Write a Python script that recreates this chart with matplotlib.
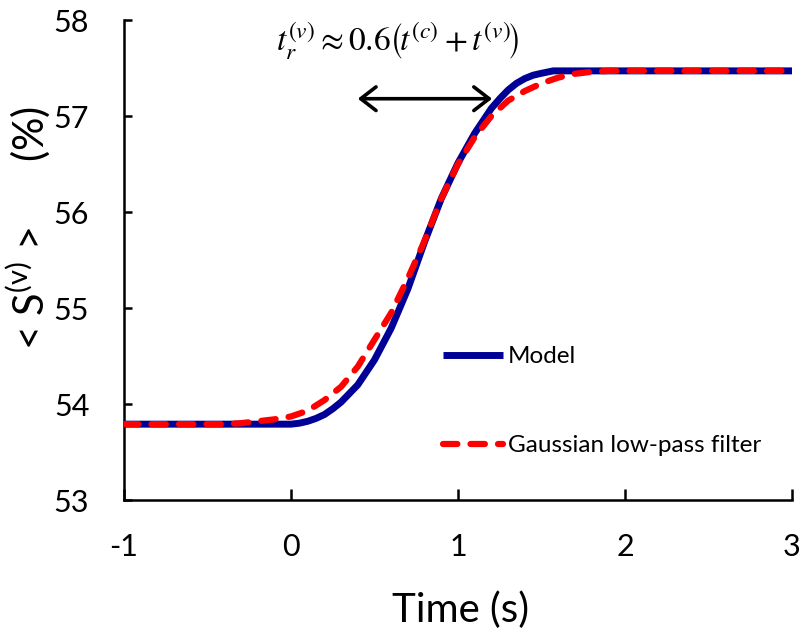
import matplotlib
matplotlib.use("Agg")
import matplotlib.pyplot as plt

# model response, time (s) vs mean saturation (%)
model_t = [-1.0, 0.0, 0.05, 0.1, 0.15, 0.2, 0.25, 0.3, 0.4, 0.5, 0.6, 0.7, 0.8, 0.9,
           1.0, 1.1, 1.2, 1.25, 1.3, 1.35, 1.4, 1.45, 1.5, 1.57, 3.0]
model_s = [53.79, 53.79, 53.80, 53.82, 53.85, 53.89, 53.95, 54.02, 54.20, 54.46, 54.79,
           55.20, 55.69, 56.14, 56.51, 56.82, 57.08, 57.18, 57.27, 57.34, 57.39, 57.425,
           57.445, 57.47, 57.47]

# same step passed through a gaussian low-pass filter
filter_t = [-1.0, -0.4, -0.3, -0.2, -0.1, 0.0, 0.1, 0.2, 0.3, 0.4, 0.5, 0.6, 0.7, 0.8,
            0.9, 1.0, 1.1, 1.2, 1.3, 1.4, 1.5, 1.6, 1.7, 1.8, 1.9, 3.0]
filter_s = [53.79, 53.79, 53.80, 53.82, 53.84, 53.87, 53.93, 54.04, 54.18, 54.39, 54.67,
            54.95, 55.31, 55.70, 56.14, 56.50, 56.78, 57.00, 57.16, 57.26, 57.34, 57.40,
            57.44, 57.46, 57.47, 57.47]

x_ticks = [-1, 0, 1, 2, 3]
y_ticks = [53, 54, 55, 56, 57, 58]

# rise-time arrow span and level
arrow_x = [0.40, 1.204]
arrow_y = 57.18

plt.rcParams["font.family"] = ["Lato", "DejaVu Sans"]
plt.rcParams["mathtext.fontset"] = "custom"
plt.rcParams["mathtext.rm"] = "Lato"
plt.rcParams["mathtext.it"] = "Lato"

fig = plt.figure(figsize=(8.02, 6.36), dpi=100)
ax = fig.add_axes([124 / 802, 1 - 500 / 636, 668 / 802, 480 / 636])

ax.plot(model_t, model_s, color="#000096", lw=5.0, solid_capstyle="butt",
        label="Model", zorder=3)
ax.plot(filter_t, filter_s, color="#ff0000", lw=4.5, dashes=(2.3, 2.1),
        dash_capstyle="round", label="Gaussian low-pass filter", zorder=4)

ax.set_xlim(-1, 3)
ax.set_ylim(53, 58)
ax.set_xticks(x_ticks)
ax.set_yticks(y_ticks)
ax.set_xticklabels([str(v) for v in x_ticks])
for s in ("top", "right"):
    ax.spines[s].set_visible(False)
for s in ("left", "bottom"):
    ax.spines[s].set_linewidth(1.8)
ax.tick_params(axis="y", direction="in", length=5.8, width=1.8, pad=25, labelsize=22)
ax.tick_params(axis="x", direction="in", length=8, width=1.8, pad=24, labelsize=22)

ax.annotate("", xy=(arrow_x[1], arrow_y), xytext=(arrow_x[0], arrow_y),
            arrowprops=dict(arrowstyle="<->,head_length=1.1,head_width=0.85",
                            lw=2.6, color="black", shrinkA=0, shrinkB=0))
ax.text(0.64, 57.78,
        r"$t_r^{(v)} \approx 0.6\left(\!t^{(c)}_{\ } + t^{(v)}_{\ }\!\right)$",
        math_fontfamily="stix", fontsize=24, ha="center", va="center", clip_on=False)

ax.legend(loc="center left", bbox_to_anchor=(0.477, 0.206), frameon=False,
          fontsize=17.5, handlelength=2.47, handletextpad=0.2, labelspacing=2.8,
          borderpad=0, borderaxespad=0)

fig.text(460 / 802, 1 - 610 / 636, "Time (s)", fontsize=29, ha="center", va="center")
fig.text(28 / 802, 1 - 228 / 636, r"< S$^{\mathrm{(v)}}$ >      (%)", fontsize=30,
         rotation=90, ha="center", va="center")

fig.savefig("out.png", dpi=100)
